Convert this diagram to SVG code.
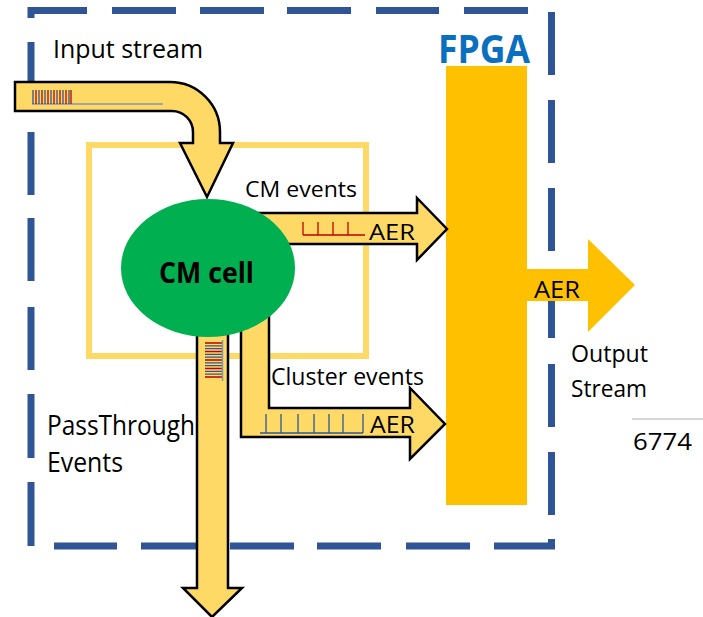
<svg xmlns="http://www.w3.org/2000/svg" width="703" height="617" viewBox="0 0 703 617">
<style>
.dash{fill:none;stroke:#2F5597;stroke-width:7;stroke-linecap:butt}
.arrow{fill:#FFD966;stroke:#000;stroke-width:2.5;stroke-linejoin:miter}
.out{fill:#FFC000;stroke:none}
.lbl{font-family:"Open Sans","Noto Sans","DejaVu Sans",sans-serif;fill:#000}
.sigR{stroke:#C00000;stroke-width:1.3;fill:none}
.sigB{stroke:#2F5597;stroke-width:1.3;fill:none}
.sigG{stroke:#8497B0;stroke-width:1.5;fill:none}
</style>
<rect width="703" height="617" fill="#fff"/>
<g id="board">
<path class="dash" d="M31,18 V10.5 H87 M112,10.5 H176 M200,10.5 H264 M287,10.5 H351 M376,10.5 H439 M464,10.5 H528
M31,42 V106 M31,132 V195 M31,218 V281 M31,307 V370 M31,394 V458 M31,482 V546
M54,546 H117 M141,546 H205 M230,546 H294 M317,546 H381 M406,546 H470 M494,546 H551.5 V539
M551.5,12 V75 M551.5,100 V163 M551.5,188 V251 M551.5,276 V338 M551.5,364 V427 M551.5,452 V515"/>
</g>
<g id="cm-module">
<rect x="89" y="145" width="277" height="211" fill="none" stroke="#FFD966" stroke-width="6"/>
</g>
<g id="fpga">
<rect x="446" y="66" width="81" height="439" fill="#FFC000"/>
<text class="lbl" x="438" y="63" font-size="39" font-weight="bold" fill="#0B6FBF" style="fill:#0B6FBF" textLength="92" lengthAdjust="spacingAndGlyphs">FPGA</text>
</g>
<g id="connectors">
<path id="cm-events-arrow" class="arrow" d="M250,213 H417 V198 L447,229 L417,260 V244 H250 Z"/>
<path id="cluster-events-arrow" class="arrow" d="M241,300 V437 H410 V459 L445,424 L410,388 V408 H269 V300 Z"/>
<path id="passthrough-arrow" class="arrow" d="M197,300 V588 H183 L212,617 L242,588 H228 V300 Z"/>
<path id="input-arrow" class="arrow" d="M15,82 H170 A50,50 0 0 1 220,132 V143 H233 L207,197 L180,143 H193 V132 A21,21 0 0 0 172,111 H15 Z"/>
<path id="output-arrow" class="out" d="M527,269 H588 V239 L635,285 L588,332 V301 H527 Z"/>
</g>
<g id="cm-cell">
<ellipse cx="208" cy="268" rx="87" ry="69" fill="#00B050"/>
<text class="lbl" x="159" y="283" font-size="29" font-weight="bold" textLength="95" lengthAdjust="spacingAndGlyphs">CM cell</text>
</g>
<g id="signals">
<path class="sigG" d="M32,104 H163"/>
<path class="sigB" d="M33,90 V104 M39,90 V104 M45,90 V104 M51,90 V104 M57,90 V104 M63,90 V104 M69,90 V104"/>
<path class="sigR" d="M36,90 V104 M42,90 V104 M48,90 V104 M54,90 V104 M60,90 V104 M66,90 V104 M71,90 V104"/>
<path class="sigR" d="M303,235 H365 M303,222 V235 M318,222 V235 M333,222 V235 M348,222 V235"/>
<path class="sigB" d="M260,433 H363 M266,414 V433 M281,414 V433 M298,414 V433 M314,414 V433 M329,414 V433 M343,414 V433 M363,414 V433"/>
<path class="sigR" d="M205,343 H222 M205,351.5 H222 M205,360 H222 M205,368.5 H222 M205,377 H222"/>
<path class="sigB" d="M205,345.8 H222 M205,348.6 H222 M205,354.3 H222 M205,357.1 H222 M205,362.8 H222 M205,365.6 H222 M205,371.3 H222 M205,374.1 H222"/>
<path class="sigG" d="M222.5,340 V381"/>
</g>
<g id="labels">
<text class="lbl" x="53" y="58" font-size="26" textLength="150" lengthAdjust="spacingAndGlyphs">Input stream</text>
<text class="lbl" x="245" y="197" font-size="21" textLength="112" lengthAdjust="spacingAndGlyphs">CM events</text>
<text class="lbl" x="369" y="240" font-size="21" textLength="46" lengthAdjust="spacingAndGlyphs">AER</text>
<text class="lbl" x="271" y="385" font-size="23" textLength="153" lengthAdjust="spacingAndGlyphs">Cluster events</text>
<text class="lbl" x="370" y="433" font-size="23" textLength="45" lengthAdjust="spacingAndGlyphs">AER</text>
<text class="lbl" x="534" y="298" font-size="23" textLength="46" lengthAdjust="spacingAndGlyphs">AER</text>
<text class="lbl" x="571" y="362" font-size="23" textLength="77" lengthAdjust="spacingAndGlyphs">Output</text>
<text class="lbl" x="571" y="397" font-size="23" textLength="76" lengthAdjust="spacingAndGlyphs">Stream</text>
<text class="lbl" x="47" y="435" font-size="28" textLength="148" lengthAdjust="spacingAndGlyphs">PassThrough</text>
<text class="lbl" x="47" y="472" font-size="28" textLength="76" lengthAdjust="spacingAndGlyphs">Events</text>
<line x1="632" y1="419" x2="703" y2="419" stroke="#C8C8C8" stroke-width="1.5"/>
<text class="lbl" x="633" y="450" font-size="24" textLength="59" lengthAdjust="spacingAndGlyphs">6774</text>
</g>
</svg>
